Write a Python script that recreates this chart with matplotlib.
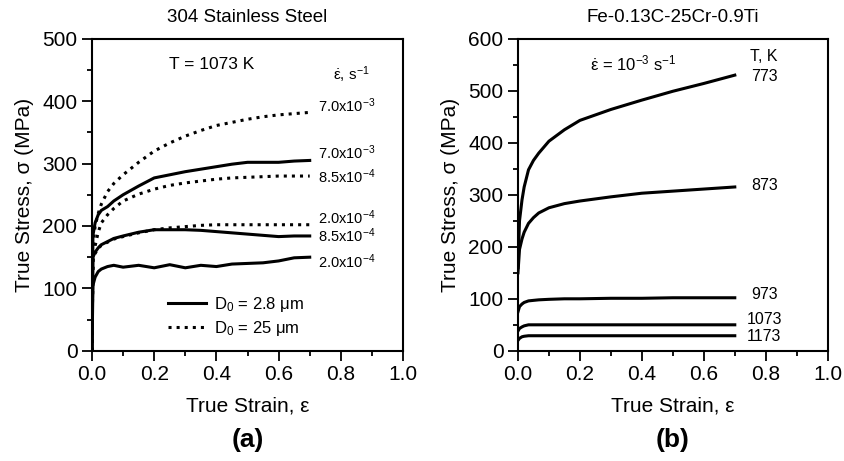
import matplotlib.pyplot as plt
from matplotlib.ticker import MultipleLocator

plt.rcParams['font.family'] = ['Liberation Sans', 'DejaVu Sans']
plt.rcParams['mathtext.fontset'] = 'custom'
plt.rcParams['mathtext.rm'] = 'Liberation Sans'
plt.rcParams['mathtext.it'] = 'Liberation Sans'
plt.rcParams['mathtext.bf'] = 'Liberation Sans:bold'

# (a) 304 stainless steel, T = 1073 K
strain_a = [0.0, 0.003, 0.01, 0.02, 0.03, 0.05, 0.07, 0.1, 0.15, 0.2, 0.25, 0.3, 0.35, 0.4, 0.45, 0.5,
            0.55, 0.6, 0.65, 0.7]
fine_70e3 = [0, 185, 205, 218, 225, 231, 240, 250, 264, 277, 282, 287, 291, 295, 299, 302, 302, 302, 304, 305]
fine_85e4 = [0, 150, 158, 165, 170, 175, 180, 184, 190, 194, 194, 194, 193, 191, 189, 187, 185, 183, 184, 184]
fine_20e4 = [0, 105, 118, 127, 131, 135, 137, 134, 137, 133, 138, 133, 137, 135, 139, 140, 141, 144, 149, 150]
coarse_70e3 = [0, 165, 200, 220, 235, 255, 268, 282, 302, 320, 333, 344, 353, 361, 366, 371, 375, 378, 380, 382]
coarse_85e4 = [0, 150, 168, 190, 205, 218, 228, 240, 251, 259, 265, 269, 272, 275, 277, 278, 279, 280, 280, 280]
coarse_20e4 = [0, 148, 156, 164, 169, 174, 179, 183, 189, 194, 197, 199, 201, 202, 202, 202, 202, 202, 202, 202]

rate_labels = ['7.0x10$^{-3}$', '7.0x10$^{-3}$', '8.5x10$^{-4}$', '2.0x10$^{-4}$', '8.5x10$^{-4}$', '2.0x10$^{-4}$']
rate_label_y = [392, 317, 279, 214, 185, 143]

# (b) Fe-0.13C-25Cr-0.9Ti, strain rate 1e-3 s^-1
strain_b = [0.0, 0.005, 0.013, 0.02, 0.034, 0.05, 0.067, 0.1, 0.15, 0.2, 0.3, 0.4, 0.5, 0.6, 0.7]
t773 = [160, 250, 290, 315, 348, 366, 380, 403, 425, 443, 464, 482, 499, 514, 530]
t873 = [150, 195, 215, 228, 245, 256, 265, 275, 283, 288, 296, 303, 307, 311, 315]
t973 = [75, 85, 90, 93, 96, 97, 98, 99, 100, 100, 101, 101, 102, 102, 102]
t1073 = [38, 43, 46, 48, 50, 50, 50, 50, 50, 50, 50, 50, 50, 50, 50]
t1173 = [20, 24, 27, 28, 29, 29, 29, 29, 29, 29, 29, 29, 29, 29, 29]
temps = ['773', '873', '973', '1073', '1173']
temp_label_y = [528, 317, 109, 60, 27]

fig = plt.figure(figsize=(8.44, 4.61), dpi=100)
ax1 = fig.add_axes([0.109, 0.239, 0.3685, 0.677])
ax2 = fig.add_axes([0.6137, 0.239, 0.367, 0.677])

lw = 2.2
ax1.plot(strain_a, fine_70e3, 'k-', lw=lw, label='D$_0$ = 2.8 $\\mu$m')
ax1.plot(strain_a, fine_85e4, 'k-', lw=lw)
ax1.plot(strain_a, fine_20e4, 'k-', lw=lw)
ax1.plot(strain_a, coarse_70e3, 'k:', lw=2.2, label='D$_0$ = 25 $\\mu$m')
ax1.plot(strain_a, coarse_85e4, 'k:', lw=2.2)
ax1.plot(strain_a, coarse_20e4, 'k:', lw=2.2)
for lab, yv in zip(rate_labels, rate_label_y):
    ax1.text(0.82, yv, lab, ha='center', va='center', fontsize=10.5)
ax1.text(0.834, 443, '$\\dot{\\varepsilon}$, s$^{-1}$', ha='center', va='center', fontsize=11)
ax1.text(0.384, 459, 'T = 1073 K', ha='center', va='center', fontsize=12.5)
ax1.legend(loc='center left', bbox_to_anchor=(0.195, 0.11), frameon=False, fontsize=12,
           handlelength=2.3, handletextpad=0.5, labelspacing=0.3)
ax1.set_ylim(0, 500)
ax1.set_xlabel('True Strain, ε', fontsize=15, labelpad=9)
ax1.set_ylabel('True Stress, σ (MPa)', fontsize=15, labelpad=6)
ax1.set_title('304 Stainless Steel', fontsize=13.5, pad=12)
ax1.text(0.5, -0.285, '(a)', transform=ax1.transAxes, ha='center', va='center',
         fontsize=19, fontweight='bold')

for ys in [t773, t873, t973, t1073, t1173]:
    ax2.plot(strain_b, ys, 'k-', lw=lw)
for lab, yv in zip(temps, temp_label_y):
    ax2.text(0.795, yv, lab, ha='center', va='center', fontsize=11.5)
ax2.text(0.795, 565, 'T, K', ha='center', va='center', fontsize=11.5)
ax2.text(0.373, 553, '$\\dot{\\varepsilon}$ = 10$^{-3}$ s$^{-1}$', ha='center', va='center', fontsize=12)
ax2.set_ylim(0, 600)
ax2.set_xlabel('True Strain, ε', fontsize=15, labelpad=9)
ax2.set_ylabel('True Stress, σ (MPa)', fontsize=15, labelpad=6)
ax2.set_title('Fe-0.13C-25Cr-0.9Ti', fontsize=13.5, pad=12)
ax2.text(0.5, -0.285, '(b)', transform=ax2.transAxes, ha='center', va='center',
         fontsize=19, fontweight='bold')

for ax in [ax1, ax2]:
    ax.set_xlim(0, 1.0)
    ax.xaxis.set_major_locator(MultipleLocator(0.2))
    ax.xaxis.set_minor_locator(MultipleLocator(0.1))
    ax.yaxis.set_major_locator(MultipleLocator(100))
    ax.yaxis.set_minor_locator(MultipleLocator(50))
    ax.xaxis.set_major_formatter(lambda v, p: f'{v:.1f}')
    ax.tick_params(which='major', direction='out', length=7, width=1.3, labelsize=15)
    ax.tick_params(which='minor', direction='out', length=3.5, width=1.3)
    for s in ax.spines.values():
        s.set_linewidth(1.5)

fig.savefig('out.png', dpi=100)
